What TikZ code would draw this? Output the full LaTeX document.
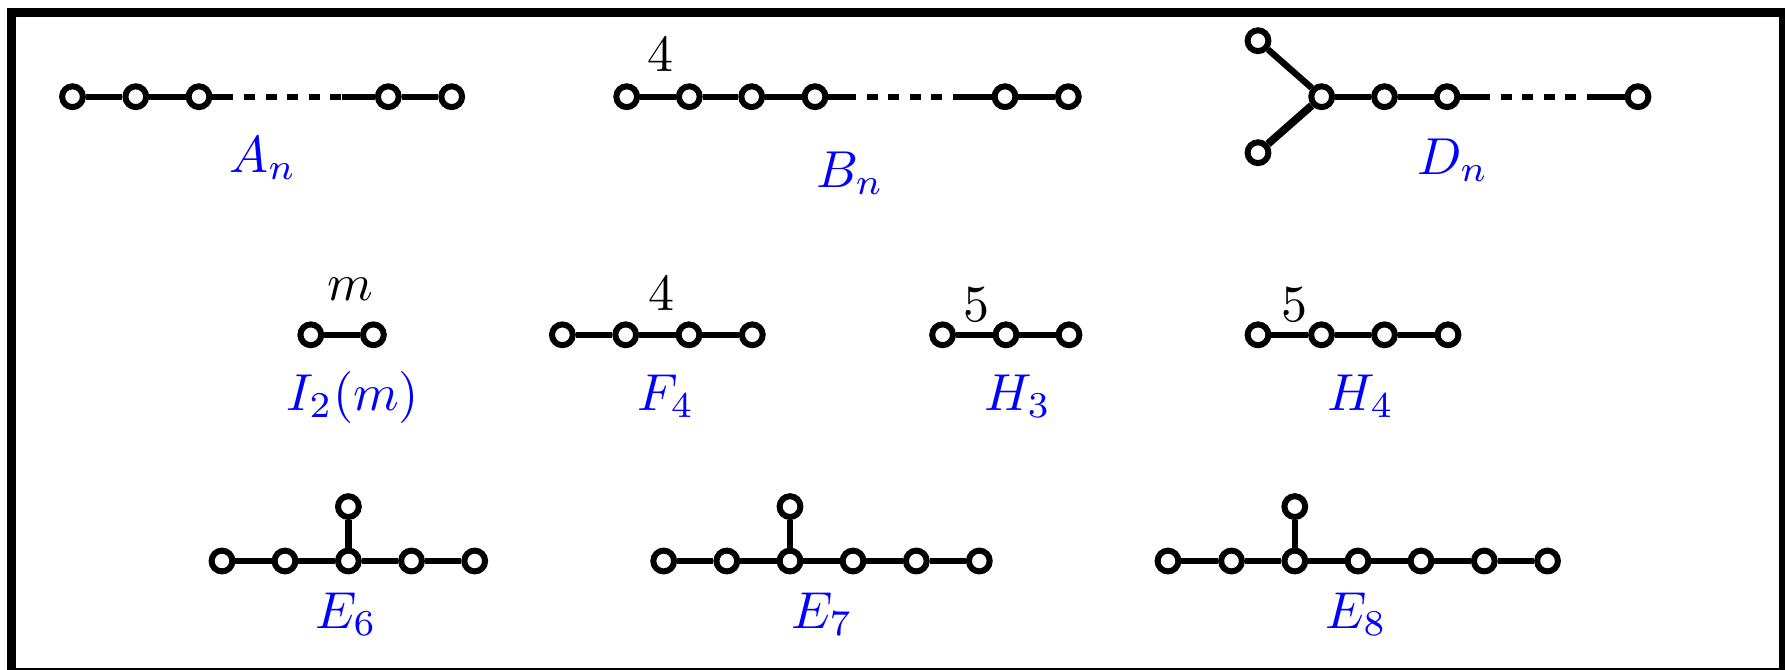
\documentclass[tikz,border=0pt]{standalone}
\usepackage{graphicx}
\newcommand{\dynlbl}[1]{\scalebox{2.6}{$#1$}}
\begin{document}
\begin{tikzpicture}[x=0.5pt,y=-0.5pt,
  vtx/.style={circle, draw=black, fill=white, line width=3pt, minimum size=10.4pt, inner sep=0pt},
  edge/.style={line width=3.2pt},
  dashedge/.style={line width=3.2pt, dash pattern=on 5.5pt off 5.3pt, dash phase=5.5pt},
  lbl/.style={text=blue, anchor=base, inner sep=0pt},
  num/.style={text=black, anchor=base, inner sep=0pt}]
\useasboundingbox (0,0) rectangle (1785,670);
\begin{scope}
\clip (0,0) rectangle (1785,670);
\draw[line width=4.5pt] (11.5,12.5) rectangle (1783.5,672.5);
\end{scope}

% ---------- A_n ----------
\foreach \x [count=\i] in {72.5,135.8,199,388.3,451.7} \node[vtx] (a\i) at (\x,96.7) {};
\coordinate (ap) at (233.3,96.7);
\coordinate (aq) at (341.7,96.7);
\draw[edge] (a1) -- (a2) -- (a3) -- (ap);
\draw[dashedge] (ap) -- (aq);
\draw[edge] (aq) -- (a4) -- (a5);
\node[lbl] (la) at (263,172) {\dynlbl{A_n}};

% ---------- B_n ----------
\foreach \x [count=\i] in {626.7,689.3,751.7,815,1005,1068.3} \node[vtx] (b\i) at (\x,96.7) {};
\coordinate (bp) at (856,96.7);
\coordinate (bq) at (963,96.7);
\draw[edge] (b1) -- (b2) -- (b3) -- (b4) -- (bp);
\draw[dashedge] (bp) -- (bq);
\draw[edge] (bq) -- (b5) -- (b6);
\node[num] (nb) at (660,71) {\dynlbl{4}};
\node[lbl] (lb) at (850,187) {\dynlbl{B_n}};

% ---------- D_n ----------
\node[vtx] (dt) at (1258,40.7) {};
\node[vtx] (db) at (1258,152.7) {};
\foreach \x [count=\i] in {1321.7,1384.5,1447,1638} \node[vtx] (d\i) at (\x,96.7) {};
\coordinate (dp) at (1490,96.7);
\coordinate (dq) at (1597.5,96.7);
\draw[edge] (dt) -- (d1);
\draw[line width=3.9pt] (db) -- (d1);
\draw[edge] (d1) -- (d2) -- (d3) -- (dp);
\draw[dashedge] (dp) -- (dq);
\draw[edge] (dq) -- (d4);
\node[lbl] (ld) at (1453,174) {\dynlbl{D_n}};

% ---------- I_2(m) ----------
\node[vtx] (i1) at (310.8,334.8) {};
\node[vtx] (i2) at (373.4,334.8) {};
\draw[edge] (i1) -- (i2);
\node[num] (ni) at (350,300) {\dynlbl{m}};
\node[lbl] (li) at (353,410) {\dynlbl{I_2(m)}};

% ---------- F_4 ----------
\foreach \x [count=\i] in {562.4,625.7,689,752.3} \node[vtx] (f\i) at (\x,334.8) {};
\draw[edge] (f1) -- (f2) -- (f3) -- (f4);
\node[num] (nf) at (661,310) {\dynlbl{4}};
\node[lbl] (lf) at (666,410) {\dynlbl{F_4}};

% ---------- H_3 ----------
\foreach \x [count=\i] in {942.6,1006,1069} \node[vtx] (h\i) at (\x,334.8) {};
\draw[edge] (h1) -- (h2) -- (h3);
\node[num] (nh) at (976,321) {\dynlbl{5}};
\node[lbl] (lh) at (1018,410) {\dynlbl{H_3}};

% ---------- H_4 ----------
\foreach \x [count=\i] in {1258,1321.5,1384.5,1448} \node[vtx] (k\i) at (\x,334.8) {};
\draw[edge] (k1) -- (k2) -- (k3) -- (k4);
\node[num] (nk) at (1294,321) {\dynlbl{5}};
\node[lbl] (lk) at (1361,410) {\dynlbl{H_4}};

% ---------- E_6 ----------
\foreach \x [count=\i] in {222,285,348.4,411.5,474.7} \node[vtx] (e\i) at (\x,561) {};
\node[vtx] (et) at (348.4,506.6) {};
\draw[edge] (e1) -- (e2) -- (e3) -- (e4) -- (e5);
\draw[edge] (e3) -- (et);
\node[lbl] (le) at (346,628) {\dynlbl{E_6}};

% ---------- E_7 ----------
\foreach \x [count=\i] in {663.7,726.8,790,853,916.3,979.3} \node[vtx] (s\i) at (\x,561) {};
\node[vtx] (st) at (790,506.6) {};
\draw[edge] (s1) -- (s2) -- (s3) -- (s4) -- (s5) -- (s6);
\draw[edge] (s3) -- (st);
\node[lbl] (ls) at (822,628) {\dynlbl{E_7}};

% ---------- E_8 ----------
\foreach \x [count=\i] in {1168,1231.5,1294.8,1358,1421,1484.3,1547.5} \node[vtx] (g\i) at (\x,561) {};
\node[vtx] (gt) at (1294.8,506.6) {};
\draw[edge] (g1) -- (g2) -- (g3) -- (g4) -- (g5) -- (g6) -- (g7);
\draw[edge] (g3) -- (gt);
\node[lbl] (lg) at (1356,628) {\dynlbl{E_8}};
\end{tikzpicture}
\end{document}
